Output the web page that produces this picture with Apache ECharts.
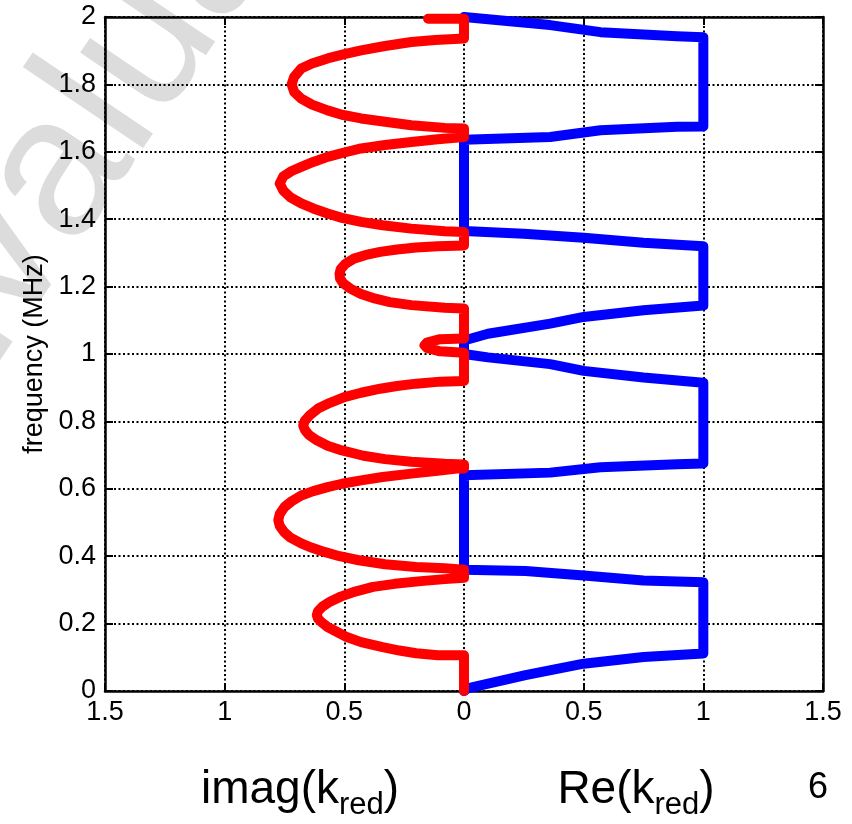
<!DOCTYPE html>
<html>
<head>
<meta charset="utf-8">
<script src="https://cdn.jsdelivr.net/npm/echarts@6/dist/echarts.min.js"></script>
<style>
html,body{margin:0;padding:0;background:#fff;}
#chart{width:852px;height:824px;}
</style>
</head>
<body>
<div id="chart"></div>
<script>
// x tick values (labels shown as magnitudes) and y ticks
var xTicks = [-1.5, -1, -0.5, 0, 0.5, 1, 1.5];
var yTicks = [0, 0.2, 0.4, 0.6, 0.8, 1, 1.2, 1.4, 1.6, 1.8, 2];

// Re(k_red): traced (frequency MHz, real part)
var reFreq = [0, 0.008, 0.047, 0.081, 0.101, 0.111, 0.323, 0.328, 0.343, 0.356, 0.360,
  0.640, 0.648, 0.664, 0.673, 0.675, 0.915, 0.930, 0.950, 0.970, 0.990, 1.000,
  1.040, 1.060, 1.090, 1.110, 1.130, 1.144, 1.320, 1.330, 1.345, 1.357, 1.365,
  1.636, 1.644, 1.664, 1.674, 1.675, 1.940, 1.943, 1.955, 1.976, 2.000];
var reVal = [0, 0.014, 0.257, 0.5, 0.75, 1.0, 1.0, 0.75, 0.5, 0.257, 0,
  0, 0.36, 0.57, 0.89, 1.0, 1.0, 0.75, 0.5, 0.36, 0.1, 0,
  0, 0.1, 0.36, 0.5, 0.75, 1.0, 1.0, 0.75, 0.5, 0.25, 0,
  0, 0.36, 0.57, 0.89, 1.0, 1.0, 0.89, 0.57, 0.36, 0];

// imag(k_red): traced (frequency MHz, magnitude of imaginary part; drawn to the left)
var imFreq = [0, 0.106,
  0.106, 0.112, 0.120, 0.130, 0.145, 0.160, 0.175, 0.190, 0.205, 0.215, 0.225, 0.237, 0.250, 0.265, 0.280, 0.295, 0.309, 0.318, 0.326, 0.332, 0.336,
  0.360,
  0.364, 0.368, 0.376, 0.388, 0.400, 0.412, 0.425, 0.438, 0.455, 0.472, 0.490, 0.507, 0.525, 0.546, 0.563, 0.580, 0.593, 0.605, 0.615, 0.625, 0.635, 0.645, 0.653, 0.660, 0.660,
  0.672,
  0.674, 0.680, 0.688, 0.698, 0.714, 0.728, 0.744, 0.760, 0.775, 0.788, 0.802, 0.818, 0.838, 0.855, 0.872, 0.885, 0.897, 0.905, 0.912, 0.918, 0.920,
  1.004, 1.008, 1.018, 1.026, 1.034, 1.044, 1.046, 1.135,
  1.137, 1.145, 1.154, 1.164, 1.178, 1.194, 1.210, 1.224, 1.238, 1.252, 1.268, 1.283, 1.294, 1.303, 1.310, 1.316, 1.320, 1.322,
  1.362,
  1.364, 1.372, 1.382, 1.392, 1.404, 1.417, 1.432, 1.447, 1.465, 1.485, 1.506, 1.527, 1.543, 1.555, 1.570, 1.585, 1.598, 1.610, 1.620, 1.629, 1.637, 1.644,
  1.669,
  1.671, 1.679, 1.689, 1.699, 1.710, 1.723, 1.740, 1.758, 1.778, 1.800, 1.822, 1.847, 1.862, 1.877, 1.890, 1.901, 1.914, 1.926, 1.932, 1.936,
  1.995, 1.995];
var imVal = [0, 0,
  0.11, 0.20, 0.27, 0.34, 0.43, 0.49, 0.53, 0.57, 0.597, 0.61, 0.615, 0.61, 0.592, 0.56, 0.515, 0.455, 0.38, 0.29, 0.18, 0.08, 0,
  0,
  0.08, 0.20, 0.33, 0.44, 0.52, 0.58, 0.635, 0.68, 0.725, 0.752, 0.77, 0.776, 0.77, 0.75, 0.72, 0.68, 0.63, 0.57, 0.51, 0.43, 0.34, 0.22, 0.12, 0.03, 0,
  0,
  0.08, 0.22, 0.33, 0.42, 0.51, 0.57, 0.615, 0.648, 0.665, 0.672, 0.665, 0.645, 0.61, 0.56, 0.50, 0.43, 0.35, 0.28, 0.20, 0.10, 0,
  0, 0.10, 0.155, 0.165, 0.155, 0.10, 0, 0,
  0.08, 0.22, 0.31, 0.37, 0.43, 0.475, 0.505, 0.518, 0.52, 0.515, 0.495, 0.46, 0.41, 0.35, 0.28, 0.20, 0.11, 0,
  0,
  0.08, 0.22, 0.34, 0.43, 0.51, 0.57, 0.63, 0.68, 0.725, 0.755, 0.77, 0.755, 0.72, 0.68, 0.63, 0.57, 0.50, 0.43, 0.33, 0.22, 0.11, 0,
  0,
  0.08, 0.22, 0.33, 0.43, 0.51, 0.57, 0.635, 0.68, 0.71, 0.72, 0.71, 0.68, 0.635, 0.57, 0.50, 0.43, 0.33, 0.22, 0.12, 0,
  0, 0.15];

var reData = reFreq.map(function (f, i) { return [reVal[i], f]; });
var imData = imFreq.map(function (f, i) { return [-imVal[i], f]; });

var FONT = '"Liberation Sans", Arial, Helvetica, sans-serif';
var chart = echarts.init(document.getElementById('chart'), null, {renderer: 'canvas'});

function axisLineStyle() { return {show: true, onZero: false, lineStyle: {color: '#000', width: 2.5}}; }
var tickStyle = {show: true, inside: true, length: 8, lineStyle: {color: '#000', width: 2}};
var gridLine = {show: true, lineStyle: {color: '#000', width: 2, type: [2, 2.5]}};

chart.setOption({
  animation: false,
  backgroundColor: '#fff',
  grid: {left: 105, right: 29, top: 17, bottom: 133, containLabel: false},
  xAxis: [{
    type: 'value', min: -1.5, max: 1.5, interval: 0.5, position: 'bottom',
    axisLine: axisLineStyle(), axisTick: tickStyle, splitLine: gridLine,
    axisLabel: {color: '#000', fontSize: 27, fontFamily: FONT, margin: 8,
      formatter: function (v) { return String(Math.abs(Math.round(v * 10) / 10)); }}
  }, {
    type: 'value', min: -1.5, max: 1.5, interval: 0.5, position: 'top',
    axisLine: axisLineStyle(), axisTick: tickStyle, splitLine: {show: false}, axisLabel: {show: false}
  }],
  yAxis: [{
    type: 'value', min: 0, max: 2, interval: 0.2, position: 'left',
    axisLine: axisLineStyle(), axisTick: tickStyle, splitLine: gridLine,
    name: 'frequency (MHz)', nameLocation: 'middle', nameGap: 56, nameRotate: 90,
    nameTextStyle: {color: '#000', fontSize: 27, fontFamily: FONT},
    axisLabel: {color: '#000', fontSize: 27, fontFamily: FONT, margin: 9,
      formatter: function (v) { return String(Math.round(v * 10) / 10); }}
  }, {
    type: 'value', min: 0, max: 2, interval: 0.2, position: 'right',
    axisLine: axisLineStyle(), axisTick: tickStyle, splitLine: {show: false}, axisLabel: {show: false}
  }],
  graphic: [{
    type: 'text', z: -10,
    x: -20, y: 470, rotation: 56 * Math.PI / 180,
    style: {text: 'Evaluation', fontSize: 200, fontFamily: FONT, fill: '#dcdcdc',
      align: 'left', verticalAlign: 'bottom'}
  }, {
    type: 'text', x: 300, y: 790,
    style: {
      text: '{a|imag(k}{s|red}{a|)}', align: 'center', verticalAlign: 'middle', fill: '#000',
      rich: {
        a: {fontSize: 46, lineHeight: 50, fontFamily: FONT, fill: '#000'},
        s: {fontSize: 31, lineHeight: 31, fontFamily: FONT, fill: '#000', padding: [30, 0, 0, 0]}
      }
    }
  }, {
    type: 'text', x: 636, y: 790,
    style: {
      text: '{a|Re(k}{s|red}{a|)}', align: 'center', verticalAlign: 'middle', fill: '#000',
      rich: {
        a: {fontSize: 46, lineHeight: 50, fontFamily: FONT, fill: '#000'},
        s: {fontSize: 31, lineHeight: 31, fontFamily: FONT, fill: '#000', padding: [30, 0, 0, 0]}
      }
    }
  }, {
    type: 'text', x: 818, y: 788,
    style: {text: '6', align: 'center', verticalAlign: 'middle', fontSize: 36, fontFamily: FONT, fill: '#000'}
  }],
  series: [{
    name: 'Re(k_red)', type: 'line', data: reData, showSymbol: false, symbol: 'none',
    xAxisIndex: 0, yAxisIndex: 0, z: 3,
    lineStyle: {color: '#0000ff', width: 10, cap: 'round', join: 'round'}
  }, {
    name: 'imag(k_red)', type: 'line', data: imData, showSymbol: false, symbol: 'none',
    xAxisIndex: 0, yAxisIndex: 0, z: 4,
    lineStyle: {color: '#ff0000', width: 10, cap: 'round', join: 'round'}
  }]
});
</script>
</body>
</html>
